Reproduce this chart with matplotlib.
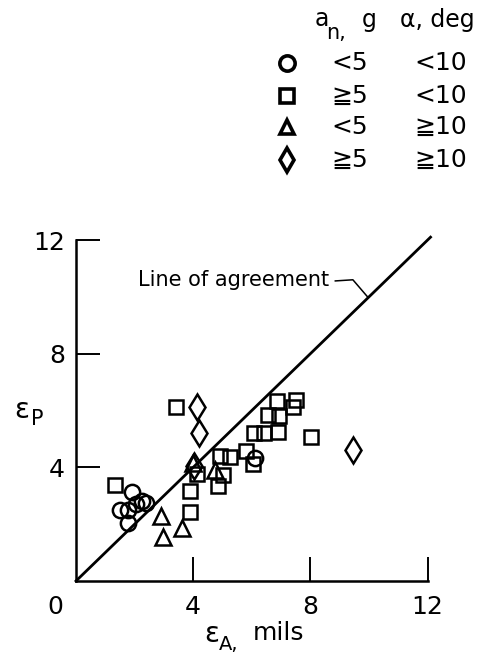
import matplotlib
matplotlib.use("Agg")
import matplotlib.pyplot as plt

plt.rcParams['font.family'] = ['DejaVu Sans']

# measured vs predicted, mils
circ_x = [1.90, 1.50, 1.79, 2.05, 2.40, 1.79, 2.25, 6.11]
circ_y = [3.14, 2.50, 2.50, 2.72, 2.76, 2.03, 2.80, 4.33]

sq_x = [1.33, 3.40, 3.89, 3.89, 4.12, 4.86, 5.00, 4.91, 5.26, 5.80,
        6.05, 6.07, 6.40, 6.89, 6.55, 6.93, 6.86, 7.42, 7.50, 8.02]
sq_y = [3.38, 6.12, 3.15, 2.42, 3.78, 3.35, 3.73, 4.40, 4.35, 4.57,
        4.12, 5.20, 5.21, 5.26, 5.85, 5.80, 6.32, 6.13, 6.38, 5.07]

tri_x = [2.90, 2.98, 3.61, 4.00, 4.74]
tri_y = [2.29, 1.56, 1.85, 4.15, 3.90]

dia_x = [4.12, 4.21, 4.04, 9.44]
dia_y = [6.12, 5.20, 4.05, 4.61]

ticks = [4, 8, 12]
legend_an = ['<5', '\u22675', '<5', '\u22675']
legend_alpha = ['<10', '<10', '\u226710', '\u226710']

fig = plt.figure(figsize=(4.81, 6.59), dpi=100)
ax = fig.add_axes([0.158, 0.1184, 0.731, 0.5174])
ax.set_xlim(0, 12)
ax.set_ylim(0, 12)
for s in ['top', 'right']:
    ax.spines[s].set_visible(False)
for s in ['left', 'bottom']:
    ax.spines[s].set_linewidth(1.8)
ax.set_xticks(ticks)
ax.set_yticks(ticks)
ax.tick_params(direction='in', length=17, width=1.4, labelsize=18, pad=8)
ax.tick_params(axis='x', pad=10)
ax.text(-0.72, -0.9, '0', fontsize=18, ha='center', va='center')

ax.plot([0, 12.1], [0, 12.1], color='black', lw=2.0, clip_on=False)

mk = dict(linestyle='none', markerfacecolor='none', markeredgecolor='black', clip_on=False)
ax.plot(circ_x, circ_y, marker='o', markersize=11, markeredgewidth=1.8, **mk)
ax.plot(sq_x, sq_y, marker='s', markersize=10.5, markeredgewidth=1.8, **mk)
ax.plot(tri_x, tri_y, marker='^', markersize=11, markeredgewidth=1.8, **mk)
ax.plot(dia_x, dia_y, marker='d', markersize=13, markeredgewidth=1.8, **mk)

ax.text(2.12, 10.6, 'Line of agreement', fontsize=15, ha='left', va='center')
ax.plot([8.85, 9.45, 9.95], [10.56, 10.6, 10.0], color='black', lw=1.1)


# legend and labels placed in figure pixels
def fx(px):
    return px / 481


def fy(py):
    return 1 - py / 659


def put(px, py, s, size):
    fig.text(fx(px), fy(py), s, fontsize=size, ha='center', va='center')


# y label: epsilon sub P
put(22, 410, '\u03b5', 20)
put(37, 419, 'P', 15)
# x label: epsilon sub A, mils
put(212, 634, '\u03b5', 20)
put(229, 645, "A,", 14)
put(279, 633, 'mils', 18)

# legend header
put(322, 19, 'a', 17)
put(336, 33, 'n,', 15)
put(369, 20, 'g', 17)
put(437, 20, '\u03b1, deg', 17)

rows_y = [63, 96, 127, 160]
marks = ['o', 's', '^', 'd']
sizes = [11, 10, 10, 12]
for m, ms, yy, a, b in zip(marks, sizes, rows_y, legend_an, legend_alpha):
    fig.lines.append(plt.Line2D([fx(287)], [fy(yy)], marker=m, markersize=ms,
                                markerfacecolor='none', markeredgecolor='black',
                                markeredgewidth=2.6, transform=fig.transFigure))
    put(350, yy, a, 18)
    put(441, yy, b, 18)

fig.savefig('out.png', dpi=100)
